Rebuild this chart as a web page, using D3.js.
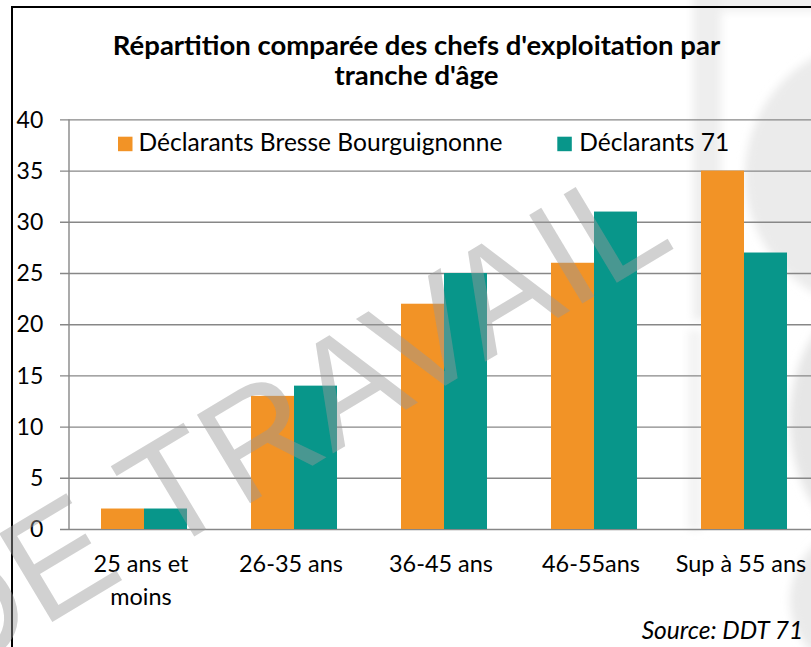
<!DOCTYPE html>
<html>
<head>
<meta charset="utf-8">
<script src="https://cdn.jsdelivr.net/npm/d3@7"></script>
<style>
  html, body { margin: 0; padding: 0; background: #fff; }
  svg { display: block; }
  text { font-family: Lato, "Liberation Sans", sans-serif; }
</style>
</head>
<body>
<svg id="chart" width="811" height="647"></svg>
<script>
// ---------- data ----------
const categories = ["25 ans et\nmoins", "26-35 ans", "36-45 ans", "46-55ans", "Sup à 55 ans"];
const seriesNames = ["Déclarants Bresse Bourguignonne", "Déclarants 71"];
const bresseValues = [2, 13, 22, 26, 35];
const dept71Values = [2, 14, 25, 31, 27];
const yTicks = [0, 5, 10, 15, 20, 25, 30, 35, 40];
const titleLines = ["Répartition comparée des chefs d'exploitation par", "tranche d'âge"];
const sourceText = "Source: DDT 71";
const watermarkText = "DE TRAVAIL";
const seriesColors = ["#F29326", "#08968A"];

// ---------- setup ----------
const svg = d3.select("#chart");
const W = 811, H = 647;

// helper: fit font size so that a text matches a target width
function fitSize(sel, target) {
  const node = sel.node();
  let fs = parseFloat(sel.style("font-size"));
  for (let i = 0; i < 4; i++) {
    const w = node.getComputedTextLength();
    fs = fs * target / w;
    sel.style("font-size", fs + "px");
  }
  return fs;
}

// background faded logo (decorative, behind chart)
const defs = svg.append("defs");
defs.append("filter").attr("id", "blur").append("feGaussianBlur").attr("stdDeviation", 4);
const bg = svg.append("g").attr("filter", "url(#blur)");
bg.append("rect").attr("x", 693).attr("y", -10).attr("width", 28).attr("height", 330).attr("fill", "#eeeeee");
bg.append("rect").attr("x", 721).attr("y", -10).attr("width", 100).attr("height", 22).attr("fill", "#f1f1f1");
bg.append("circle").attr("cx", 880).attr("cy", 175).attr("r", 135).attr("fill", "#ebebeb");
bg.append("ellipse").attr("cx", 870).attr("cy", 420).attr("rx", 80).attr("ry", 120).attr("fill", "#e6e6e6");
bg.append("ellipse").attr("cx", 880).attr("cy", 600).attr("rx", 90).attr("ry", 80).attr("fill", "#eaeaea");
bg.append("rect").attr("x", 688).attr("y", 330).attr("width", 14).attr("height", 200).attr("fill", "#f3f3f3");

// frame (top & left border)
svg.append("line").attr("x1", 12).attr("x2", W).attr("y1", 7).attr("y2", 7)
  .attr("stroke", "#000").attr("stroke-width", 2);
svg.append("line").attr("x1", 12).attr("x2", 12).attr("y1", 6).attr("y2", H)
  .attr("stroke", "#000").attr("stroke-width", 2);

// title
const t1 = svg.append("text").attr("x", 416.5).attr("y", 55).attr("text-anchor", "middle")
  .style("font-weight", "bold").style("font-size", "24px").style("fill", "#000").text(titleLines[0]);
const titleFs = fitSize(t1, 607);
svg.append("text").attr("x", 416.5).attr("y", 85).attr("text-anchor", "middle")
  .style("font-weight", "bold").style("font-size", titleFs + "px").style("fill", "#000").text(titleLines[1]);

// scales
const x = d3.scaleBand().domain(categories).range([69, 819]).paddingInner(0.4267).paddingOuter(0.21333);
const xs = d3.scaleBand().domain(seriesNames).range([0, x.bandwidth()]);
const y = d3.scaleLinear().domain([0, 40]).range([529, 119.4]);

// gridlines
const yAxis = d3.axisLeft(y).tickValues(yTicks).tickSize(W - 60);
const gy = svg.append("g").attr("transform", `translate(${W},0)`).call(yAxis);
gy.select(".domain").remove();
gy.selectAll(".tick line").attr("stroke", "#878787").attr("stroke-width", 1.4);
gy.selectAll(".tick text").remove();
// y labels
const yl = svg.append("g").selectAll("text").data(yTicks).join("text")
  .attr("x", 43.3).attr("y", d => y(d)).attr("dy", "0.36em")
  .attr("text-anchor", "end").style("font-size", "22px").style("fill", "#000").text(d => d);
const yfs = fitSize(yl.filter(d => d === 20), 26.7);
yl.style("font-size", yfs + "px");
// vertical axis line
svg.append("line").attr("x1", 69).attr("x2", 69).attr("y1", y(40)).attr("y2", y(0))
  .attr("stroke", "#878787").attr("stroke-width", 1.4);

// bars
const data = categories.map((c, i) => ({ cat: c, vals: [bresseValues[i], dept71Values[i]] }));
const groups = svg.append("g").selectAll("g").data(data).join("g")
  .attr("transform", d => `translate(${x(d.cat)},0)`);
groups.selectAll("rect").data(d => d.vals.map((v, j) => ({ v, s: seriesNames[j], j })))
  .join("rect")
  .attr("x", d => xs(d.s)).attr("width", xs.bandwidth())
  .attr("y", d => y(d.v)).attr("height", d => y(0) - y(d.v))
  .attr("fill", d => seriesColors[d.j]);

// x labels
const xl = svg.append("g").selectAll("text").data(categories).join("text")
  .attr("text-anchor", "middle").style("font-size", "22px").style("fill", "#000")
  .attr("transform", d => `translate(${x(d) + x.bandwidth() / 2 - 3},571.7)`);
xl.selectAll("tspan").data(d => d.split("\n")).join("tspan")
  .attr("x", 0).attr("dy", (d, i) => i === 0 ? 0 : 33.3).text(d => d);
const xfs = fitSize(xl.filter(d => d === "26-35 ans"), 104);
xl.style("font-size", xfs + "px");

// legend
const legX = [118, 557.3];
const leg = svg.append("g").selectAll("g").data(seriesNames).join("g")
  .attr("transform", (d, i) => `translate(${legX[i]},0)`);
leg.append("rect").attr("x", 0).attr("y", 136.7).attr("width", 14.5).attr("height", 14.5)
  .attr("fill", (d, i) => seriesColors[i]);
const lt = leg.append("text").attr("x", (d, i) => i === 0 ? 20.5 : 22).attr("y", 150.7)
  .style("font-size", "22px").style("fill", "#000").text(d => d);
const lfs = fitSize(lt.filter((d, i) => i === 0), 364);
lt.style("font-size", lfs + "px");

// source
const src = svg.append("text").attr("x", 803.3).attr("y", 639.3).attr("text-anchor", "end")
  .style("font-style", "italic").style("font-size", "22px").style("fill", "#000").text(sourceText);
fitSize(src, 161.6);

// watermark on top
svg.append("text")
  .attr("transform", "translate(-51,684) rotate(-31)")
  .attr("text-anchor", "start")
  .style("font-family", "'Liberation Sans', sans-serif")
  .style("font-size", "150px")
  .style("fill", "#9a9a9a").style("fill-opacity", 0.45)
  .text(watermarkText);
</script>
</body>
</html>
